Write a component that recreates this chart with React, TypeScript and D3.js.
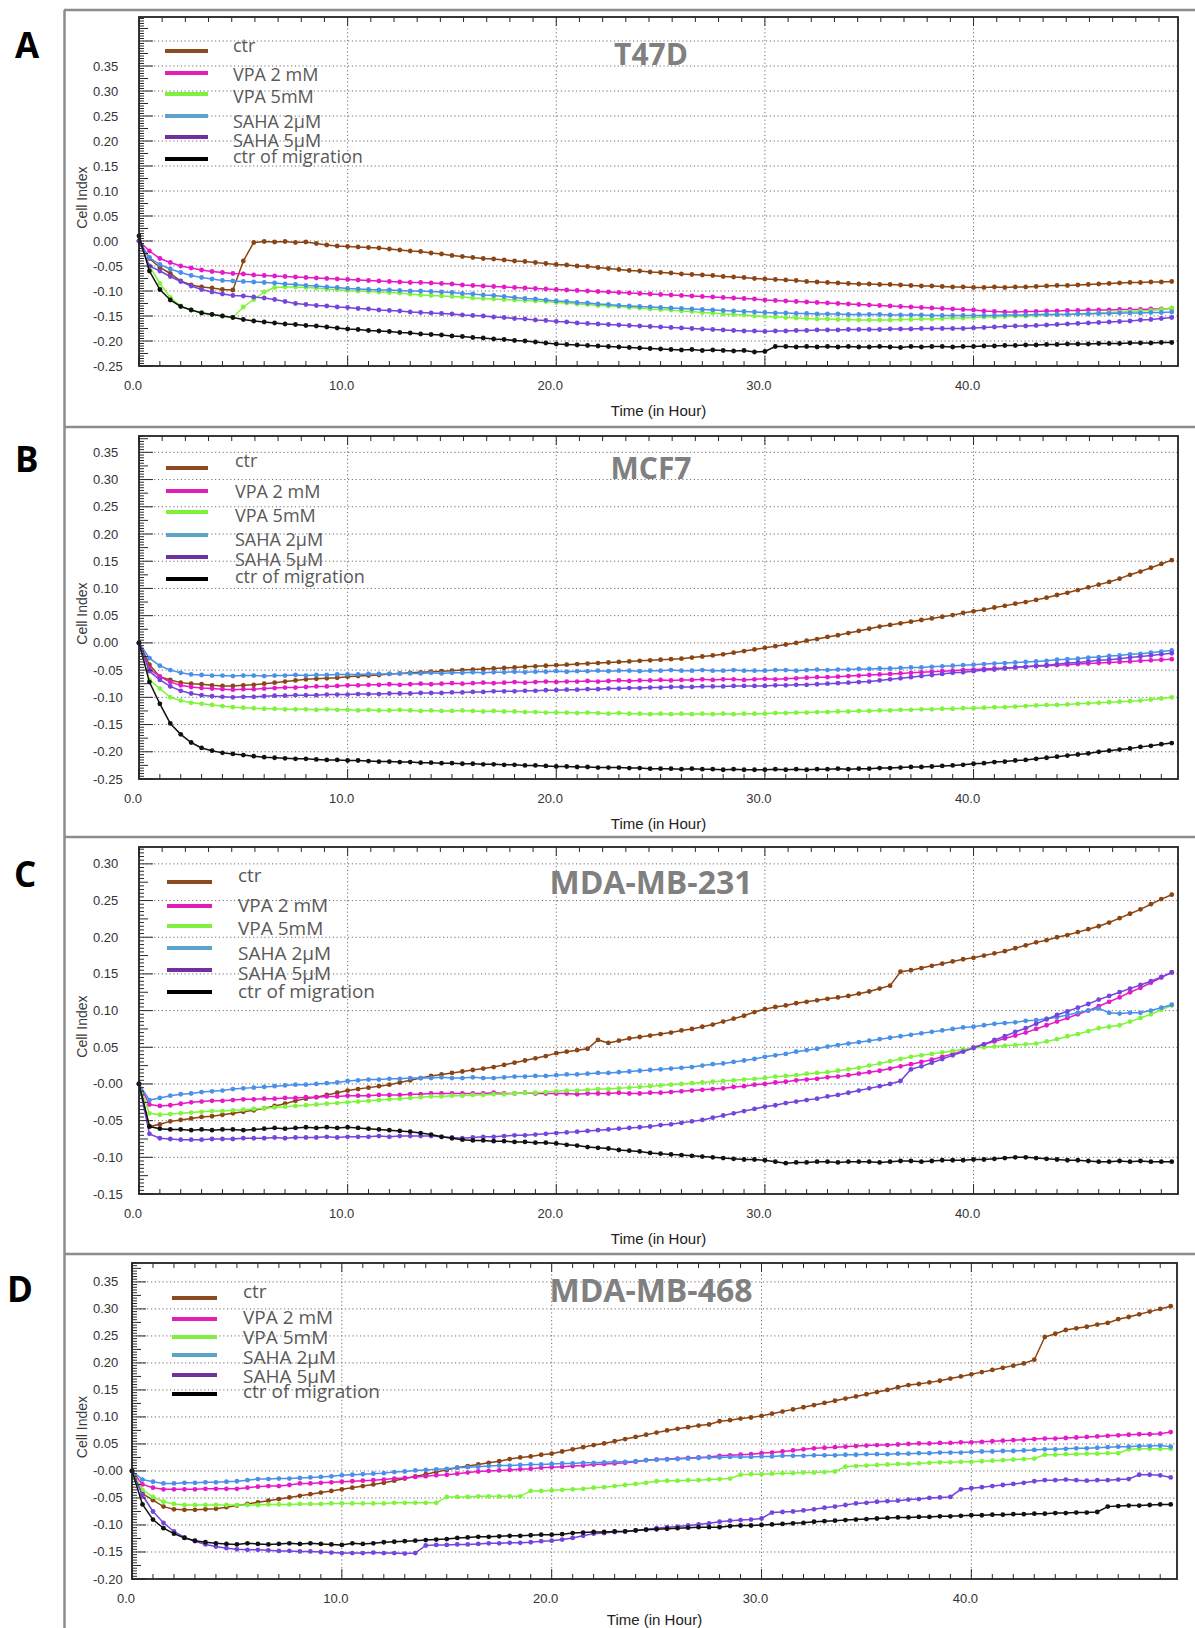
import React from "react";
import * as d3 from "d3";

// time axis: one reading every half hour
const HOURS = d3.range(0, 50, 0.5);
const X_MAX = 49.8;

const SERIES_LABELS = ["ctr", "VPA 2 mM", "VPA 5mM", "SAHA 2µM", "SAHA 5µM", "ctr of migration"];
const LINE_COLORS = ["#8b4513", "#e619c8", "#7ef53a", "#4a90e8", "#7444dc", "#111111"];
const LEGEND_COLORS = ["#8b4a20", "#e020b4", "#80f040", "#5ba3c9", "#7030a0", "#000000"];
const X_TICK_LABELS = ["0.0", "10.0", "20.0", "30.0", "40.0"];

const Y_LABELS_A = ["0.35", "0.30", "0.25", "0.20", "0.15", "0.10", "0.05", "0.00", "-0.05", "-0.10", "-0.15", "-0.20", "-0.25"];
const Y_LABELS_B = ["0.35", "0.30", "0.25", "0.20", "0.15", "0.10", "0.05", "0.00", "-0.05", "-0.10", "-0.15", "-0.20", "-0.25"];
const Y_LABELS_C = ["0.30", "0.25", "0.20", "0.15", "0.10", "0.05", "-0.00", "-0.05", "-0.10", "-0.15"];
const Y_LABELS_D = ["0.35", "0.30", "0.25", "0.20", "0.15", "0.10", "0.05", "-0.00", "-0.05", "-0.10", "-0.15", "-0.20"];

// cell index x 1000
const T47D_CTR = [
  0, -35, -53, -65, -80, -88, -92, -94, -97, -98,
  -40, -3, -1, -2, -1, -3, -2, -5, -8, -10,
  -11, -12, -13, -14, -16, -18, -20, -21, -24, -26,
  -29, -31, -33, -35, -36, -38, -40, -41, -43, -45,
  -47, -48, -50, -51, -53, -55, -57, -59, -60, -62,
  -63, -64, -66, -67, -68, -69, -71, -72, -73, -75,
  -76, -77, -78, -79, -81, -82, -83, -84, -85, -86,
  -86, -87, -87, -88, -89, -90, -90, -91, -92, -92,
  -93, -93, -92, -93, -92, -92, -91, -90, -89, -89,
  -88, -87, -86, -85, -84, -83, -83, -82, -82, -81];
const T47D_VPA2 = [
  0, -20, -35, -43, -50, -54, -58, -61, -63, -65,
  -66, -68, -69, -70, -71, -72, -73, -74, -75, -76,
  -77, -78, -79, -80, -81, -82, -83, -83, -84, -85,
  -86, -88, -89, -90, -91, -92, -93, -94, -95, -96,
  -97, -98, -99, -100, -101, -102, -103, -104, -105, -106,
  -107, -108, -109, -110, -111, -112, -113, -114, -115, -116,
  -118, -119, -120, -121, -122, -123, -124, -125, -126, -127,
  -128, -129, -130, -131, -132, -133, -134, -135, -136, -137,
  -138, -140, -141, -142, -142, -141, -141, -140, -140, -139,
  -139, -138, -138, -138, -137, -137, -137, -136, -136, -135];
const T47D_VPA5 = [
  0, -50, -85, -113, -130, -138, -143, -147, -150, -153,
  -132, -117, -102, -93, -92, -92, -93, -94, -96, -97,
  -99, -100, -101, -102, -103, -104, -106, -108, -109, -110,
  -111, -112, -114, -115, -116, -117, -118, -119, -120, -121,
  -123, -124, -126, -127, -129, -130, -131, -133, -134, -136,
  -137, -138, -140, -141, -143, -144, -146, -147, -148, -150,
  -151, -152, -153, -154, -155, -156, -156, -157, -157, -158,
  -158, -158, -158, -157, -157, -156, -156, -155, -154, -154,
  -153, -152, -152, -151, -150, -150, -149, -148, -147, -147,
  -146, -145, -144, -143, -142, -141, -140, -139, -137, -134];
const T47D_SAHA2 = [
  0, -33, -47, -56, -63, -69, -73, -76, -79, -80,
  -81, -82, -83, -84, -86, -87, -89, -90, -92, -93,
  -95, -96, -97, -98, -98, -99, -100, -100, -101, -102,
  -103, -105, -106, -108, -109, -111, -113, -115, -116, -118,
  -120, -121, -123, -124, -126, -127, -129, -130, -131, -132,
  -133, -134, -135, -136, -137, -138, -139, -140, -141, -142,
  -143, -144, -144, -145, -145, -146, -146, -146, -147, -147,
  -147, -147, -148, -148, -148, -148, -149, -149, -149, -149,
  -149, -149, -149, -148, -148, -148, -147, -147, -147, -147,
  -146, -146, -145, -145, -144, -144, -144, -143, -143, -142];
const T47D_SAHA5 = [
  0, -50, -60, -71, -81, -90, -97, -102, -106, -109,
  -110, -112, -114, -117, -121, -125, -127, -129, -130, -132,
  -133, -135, -136, -138, -139, -140, -142, -143, -144, -145,
  -146, -148, -149, -150, -152, -153, -155, -156, -158, -159,
  -161, -162, -164, -165, -166, -167, -168, -169, -170, -171,
  -172, -173, -174, -175, -176, -177, -178, -179, -180, -180,
  -181, -180, -180, -179, -179, -178, -178, -178, -177, -177,
  -177, -177, -176, -176, -176, -175, -175, -175, -175, -175,
  -174, -173, -172, -171, -170, -170, -169, -168, -167, -166,
  -165, -164, -163, -162, -161, -160, -158, -157, -155, -153];
const T47D_MIG = [
  10, -60, -97, -118, -131, -138, -144, -147, -150, -153,
  -157, -160, -162, -164, -166, -167, -169, -170, -172, -174,
  -176, -177, -179, -180, -181, -183, -184, -186, -187, -188,
  -190, -191, -193, -194, -196, -197, -199, -200, -202, -204,
  -206, -207, -208, -209, -210, -211, -212, -213, -214, -215,
  -216, -217, -218, -217, -219, -218, -219, -220, -219, -222,
  -221, -211, -211, -212, -211, -212, -211, -212, -211, -212,
  -212, -211, -212, -213, -211, -212, -211, -211, -212, -211,
  -211, -210, -210, -209, -209, -208, -208, -207, -207, -206,
  -206, -206, -205, -205, -205, -204, -204, -204, -203, -203];

const MCF7_CTR = [
  0, -40, -62, -68, -73, -75, -76, -78, -79, -79,
  -78, -77, -75, -73, -71, -69, -67, -66, -65, -64,
  -62, -61, -60, -59, -57, -56, -55, -54, -53, -52,
  -51, -50, -49, -48, -47, -46, -45, -44, -43, -42,
  -41, -40, -39, -38, -37, -36, -35, -34, -33, -32,
  -31, -30, -29, -27, -25, -23, -21, -18, -15, -12,
  -9, -6, -3, 0, 4, 7, 11, 14, 18, 22,
  26, 30, 33, 36, 39, 42, 45, 48, 51, 55,
  58, 61, 65, 68, 72, 75, 79, 83, 88, 92,
  97, 102, 107, 112, 118, 125, 131, 138, 145, 152];
const MCF7_VPA2 = [
  0, -48, -62, -72, -78, -81, -83, -84, -85, -86,
  -85, -85, -84, -83, -82, -82, -81, -80, -80, -79,
  -78, -78, -77, -77, -76, -77, -76, -75, -76, -75,
  -74, -75, -74, -73, -74, -73, -72, -73, -72, -71,
  -72, -71, -71, -70, -71, -70, -69, -70, -69, -69,
  -68, -69, -68, -68, -67, -68, -67, -67, -68, -67,
  -66, -67, -66, -65, -64, -63, -63, -62, -61, -60,
  -59, -58, -57, -56, -55, -54, -53, -52, -51, -50,
  -49, -48, -47, -46, -45, -44, -43, -42, -41, -40,
  -39, -38, -37, -36, -35, -34, -33, -32, -31, -30];
const MCF7_VPA5 = [
  0, -68, -84, -100, -106, -110, -112, -114, -116, -118,
  -119, -120, -121, -121, -122, -122, -122, -123, -122, -123,
  -123, -124, -123, -124, -124, -123, -124, -125, -124, -125,
  -125, -124, -125, -126, -125, -126, -126, -127, -127, -128,
  -128, -128, -129, -128, -129, -130, -129, -130, -130, -131,
  -130, -131, -130, -131, -130, -131, -130, -131, -130, -130,
  -130, -129, -129, -128, -128, -127, -127, -126, -126, -125,
  -125, -124, -124, -123, -123, -122, -122, -121, -121, -120,
  -120, -119, -118, -118, -117, -116, -115, -114, -114, -113,
  -112, -111, -110, -109, -108, -107, -106, -104, -102, -100];
const MCF7_SAHA2 = [
  0, -28, -42, -50, -55, -58, -59, -60, -60, -61,
  -60, -60, -61, -60, -60, -59, -60, -59, -59, -58,
  -58, -58, -57, -57, -57, -56, -56, -56, -55, -56,
  -55, -55, -54, -55, -54, -54, -53, -54, -53, -53,
  -52, -53, -52, -52, -51, -52, -51, -51, -52, -51,
  -51, -50, -51, -51, -50, -51, -51, -50, -51, -51,
  -51, -50, -50, -51, -50, -49, -50, -49, -49, -48,
  -48, -47, -47, -46, -45, -45, -44, -43, -42, -41,
  -40, -39, -38, -37, -36, -35, -34, -33, -31, -30,
  -29, -27, -26, -24, -23, -21, -20, -18, -16, -14];
const MCF7_SAHA5 = [
  0, -52, -68, -80, -88, -93, -96, -98, -99, -100,
  -99, -99, -98, -97, -97, -96, -96, -96, -95, -95,
  -95, -94, -94, -94, -93, -93, -93, -92, -92, -92,
  -91, -91, -90, -90, -89, -89, -89, -88, -88, -87,
  -87, -86, -86, -85, -85, -84, -84, -83, -83, -82,
  -82, -81, -81, -81, -80, -80, -80, -79, -79, -79,
  -79, -78, -78, -77, -77, -76, -75, -74, -73, -72,
  -71, -69, -67, -65, -63, -61, -59, -57, -55, -54,
  -52, -50, -49, -47, -45, -44, -42, -41, -39, -37,
  -36, -34, -32, -31, -29, -27, -25, -23, -21, -19];
const MCF7_MIG = [
  0, -72, -112, -148, -168, -183, -193, -198, -202, -204,
  -206, -208, -210, -211, -212, -213, -213, -214, -215, -215,
  -216, -216, -217, -218, -218, -219, -219, -220, -220, -221,
  -221, -222, -222, -223, -223, -224, -224, -225, -225, -226,
  -227, -227, -228, -228, -229, -229, -229, -230, -230, -231,
  -231, -231, -232, -231, -232, -232, -233, -232, -233, -233,
  -233, -232, -233, -232, -233, -232, -232, -231, -232, -231,
  -231, -230, -230, -229, -228, -228, -227, -226, -225, -224,
  -222, -221, -219, -218, -216, -215, -213, -211, -209, -207,
  -205, -203, -200, -198, -196, -194, -191, -189, -186, -184];

const MB231_CTR = [
  0, -58, -55, -51, -49, -47, -45, -44, -42, -40,
  -38, -36, -33, -30, -27, -23, -20, -18, -15, -12,
  -9, -7, -5, -3, -1, 2, 5, 8, 11, 13,
  15, 17, 19, 21, 23, 26, 29, 32, 35, 38,
  42, 44, 46, 48, 60, 56, 59, 62, 64, 66,
  68, 70, 73, 75, 78, 81, 85, 89, 93, 98,
  102, 105, 107, 110, 112, 114, 116, 118, 120, 123,
  126, 130, 134, 153, 155, 158, 161, 164, 167, 170,
  172, 175, 178, 181, 185, 189, 193, 196, 200, 203,
  207, 211, 215, 220, 226, 232, 238, 245, 252, 258];
const MB231_VPA2 = [
  0, -28, -30, -29, -27, -25, -24, -23, -23, -22,
  -21, -21, -20, -20, -19, -19, -18, -18, -17, -17,
  -16, -16, -16, -15, -15, -15, -14, -14, -13, -13,
  -13, -13, -13, -13, -12, -13, -13, -12, -13, -13,
  -13, -13, -14, -13, -13, -13, -12, -13, -13, -12,
  -12, -11, -10, -9, -8, -7, -6, -4, -3, -1,
  0, 2, 3, 5, 6, 7, 9, 10, 12, 14,
  16, 18, 21, 24, 27, 30, 33, 37, 41, 45,
  50, 54, 58, 62, 66, 70, 75, 80, 85, 90,
  95, 100, 106, 112, 118, 125, 131, 138, 145, 152];
const MB231_VPA5 = [
  0, -40, -42, -41, -40, -39, -38, -37, -37, -36,
  -35, -34, -33, -32, -31, -30, -29, -28, -27, -26,
  -25, -24, -23, -22, -21, -20, -19, -18, -17, -17,
  -16, -16, -15, -15, -14, -14, -13, -12, -12, -11,
  -10, -9, -9, -8, -7, -7, -6, -5, -4, -3,
  -2, -1, 0, 1, 2, 3, 4, 5, 6, 7,
  8, 10, 11, 12, 14, 15, 16, 18, 20, 22,
  25, 28, 31, 34, 37, 39, 41, 43, 45, 47,
  49, 50, 51, 52, 53, 54, 55, 58, 61, 65,
  68, 72, 76, 78, 80, 85, 90, 95, 101, 107];
const MB231_SAHA2 = [
  0, -22, -19, -16, -14, -13, -11, -10, -9, -7,
  -6, -5, -4, -3, -2, -1, -1, 0, 1, 2,
  4, 5, 6, 6, 7, 7, 8, 8, 8, 9,
  8, 8, 9, 8, 8, 9, 10, 10, 11, 11,
  12, 13, 13, 14, 15, 15, 16, 17, 18, 19,
  20, 21, 22, 23, 25, 27, 28, 30, 32, 34,
  37, 39, 41, 44, 46, 48, 51, 53, 55, 57,
  59, 61, 63, 65, 67, 69, 71, 73, 75, 77,
  78, 80, 82, 83, 84, 86, 87, 89, 91, 94,
  97, 100, 103, 97, 96, 97, 97, 100, 104, 108];
const MB231_SAHA5 = [
  0, -68, -74, -75, -76, -76, -76, -75, -75, -75,
  -74, -74, -74, -73, -74, -73, -73, -73, -72, -73,
  -72, -72, -72, -71, -72, -71, -71, -71, -71, -72,
  -73, -74, -73, -72, -72, -71, -70, -70, -69, -68,
  -67, -66, -65, -64, -63, -62, -61, -60, -59, -58,
  -56, -55, -53, -51, -49, -46, -43, -40, -37, -34,
  -31, -29, -26, -24, -22, -20, -17, -15, -12, -9,
  -6, -3, 0, 4, 20, 24, 29, 34, 39, 44,
  49, 54, 60, 65, 71, 76, 82, 88, 94, 99,
  104, 109, 115, 120, 125, 130, 135, 140, 146, 152];
const MB231_MIG = [
  0, -58, -61, -62, -62, -63, -62, -63, -62, -62,
  -63, -62, -61, -60, -61, -60, -59, -60, -59, -60,
  -59, -60, -61, -62, -63, -64, -65, -67, -69, -72,
  -74, -76, -77, -77, -78, -78, -79, -79, -80, -80,
  -81, -83, -84, -86, -87, -88, -90, -91, -92, -94,
  -95, -96, -97, -98, -99, -100, -101, -102, -103, -103,
  -104, -106, -108, -107, -107, -106, -106, -107, -106, -106,
  -106, -107, -106, -105, -105, -106, -105, -104, -104, -104,
  -103, -103, -102, -101, -100, -100, -101, -102, -103, -104,
  -104, -105, -106, -106, -105, -106, -105, -106, -106, -106];

const MB468_CTR = [
  0, -42, -54, -66, -71, -72, -72, -71, -70, -67,
  -64, -61, -58, -55, -52, -49, -46, -43, -40, -37,
  -34, -31, -28, -25, -22, -18, -14, -10, -6, -2,
  2, 6, 9, 12, 15, 18, 22, 25, 27, 30,
  32, 36, 40, 44, 48, 51, 55, 59, 63, 67,
  71, 75, 78, 81, 84, 86, 92, 94, 97, 99,
  102, 106, 110, 114, 118, 122, 126, 130, 134, 138,
  142, 146, 150, 155, 159, 161, 164, 167, 171, 175,
  179, 183, 187, 191, 195, 199, 206, 248, 254, 261,
  264, 267, 271, 274, 281, 285, 290, 295, 300, 305];
const MB468_VPA2 = [
  0, -25, -31, -34, -34, -34, -34, -33, -33, -33,
  -33, -31, -29, -28, -28, -26, -23, -23, -22, -21,
  -20, -19, -18, -17, -16, -14, -13, -11, -10, -8,
  -7, -5, -3, -1, 0, 1, 2, 3, 4, 6,
  7, 8, 9, 10, 12, 13, 14, 15, 17, 20,
  21, 22, 23, 24, 25, 26, 28, 29, 30, 31,
  33, 34, 36, 38, 40, 42, 43, 44, 45, 46,
  47, 48, 48, 49, 50, 51, 51, 52, 52, 53,
  53, 54, 55, 56, 57, 58, 59, 60, 60, 61,
  62, 63, 64, 65, 66, 67, 68, 68, 69, 72];
const MB468_VPA5 = [
  0, -35, -48, -57, -61, -63, -63, -63, -63, -63,
  -63, -63, -63, -62, -62, -62, -61, -61, -61, -60,
  -60, -60, -60, -60, -60, -59, -59, -59, -59, -59,
  -48, -48, -48, -47, -47, -47, -47, -47, -37, -37,
  -36, -35, -34, -33, -31, -30, -28, -26, -24, -22,
  -19, -18, -18, -17, -17, -16, -15, -14, -7, -6,
  -6, -5, -4, -4, -3, -3, -2, -1, 8, 9,
  10, 11, 12, 13, 13, 14, 15, 16, 16, 17,
  17, 18, 19, 20, 21, 22, 23, 30, 30, 31,
  31, 32, 32, 33, 33, 40, 41, 41, 41, 41];
const MB468_SAHA2 = [
  0, -16, -20, -23, -23, -22, -22, -21, -21, -20,
  -19, -17, -15, -15, -14, -14, -13, -12, -11, -10,
  -8, -7, -6, -5, -4, -2, -1, 1, 2, 3,
  4, 6, 7, 8, 9, 10, 10, 11, 12, 12,
  13, 14, 14, 15, 15, 16, 17, 17, 18, 20,
  21, 21, 22, 23, 24, 25, 25, 26, 26, 26,
  27, 27, 28, 28, 28, 29, 29, 29, 30, 30,
  31, 31, 31, 32, 32, 33, 33, 34, 34, 34,
  35, 36, 36, 37, 37, 38, 39, 40, 40, 41,
  42, 42, 43, 44, 45, 45, 46, 46, 47, 45];
const MB468_SAHA5 = [
  0, -45, -75, -96, -112, -123, -130, -136, -140, -143,
  -145, -146, -146, -147, -148, -148, -149, -149, -150, -151,
  -152, -152, -152, -151, -152, -152, -153, -152, -138, -137,
  -137, -136, -136, -135, -134, -134, -133, -133, -132, -130,
  -129, -127, -124, -120, -116, -115, -113, -112, -110, -108,
  -106, -104, -103, -101, -99, -97, -94, -92, -91, -90,
  -88, -77, -76, -75, -73, -71, -68, -66, -63, -60,
  -59, -57, -56, -55, -53, -52, -50, -49, -48, -34,
  -32, -30, -28, -26, -24, -22, -19, -17, -17, -16,
  -17, -18, -17, -17, -16, -15, -7, -7, -8, -12];
const MB468_MIG = [
  0, -62, -90, -106, -116, -124, -129, -132, -134, -135,
  -136, -134, -135, -136, -135, -134, -135, -134, -135, -136,
  -137, -134, -135, -134, -132, -131, -130, -129, -128, -127,
  -126, -124, -123, -122, -122, -121, -120, -120, -119, -118,
  -118, -117, -115, -114, -113, -113, -112, -112, -110, -109,
  -108, -107, -106, -105, -104, -104, -104, -102, -101, -101,
  -100, -99, -98, -97, -96, -94, -93, -92, -91, -90,
  -89, -88, -87, -86, -86, -85, -85, -84, -84, -83,
  -82, -82, -81, -81, -80, -80, -79, -79, -78, -78,
  -77, -77, -76, -66, -65, -64, -64, -63, -62, -62];

const PANELS = [
  {
    letter: "A", letterX: 15, letterY: 58, title: "T47D", titleSize: 30, titleY: 65,
    series: [T47D_CTR, T47D_VPA2, T47D_VPA5, T47D_SAHA2, T47D_SAHA5, T47D_MIG], yLabels: Y_LABELS_A,
    left: 139, right: 1178, top: 17, bottom: 366, yMin: -0.25, yMax: 0.448, topStep: 10 / 9,
    legLine: [165, 208], legRows: [51, 73, 94, 116, 137, 159], legTextX: 233,
    legBase: [52, 81, 103, 128, 147, 163], legSize: 18,
  },
  {
    letter: "B", letterX: 15, letterY: 472, title: "MCF7", titleSize: 30, titleY: 479,
    series: [MCF7_CTR, MCF7_VPA2, MCF7_VPA5, MCF7_SAHA2, MCF7_SAHA5, MCF7_MIG], yLabels: Y_LABELS_B,
    left: 139, right: 1178, top: 436, bottom: 779, yMin: -0.25, yMax: 0.38, topStep: 10 / 9,
    legLine: [166, 208], legRows: [468, 491, 512, 535, 557, 579], legTextX: 235,
    legBase: [467, 498, 522, 546, 566, 583], legSize: 18,
  },
  {
    letter: "C", letterX: 14, letterY: 887, title: "MDA-MB-231", titleSize: 32, titleY: 894,
    series: [MB231_CTR, MB231_VPA2, MB231_VPA5, MB231_SAHA2, MB231_SAHA5, MB231_MIG], yLabels: Y_LABELS_C,
    left: 139, right: 1178, top: 847, bottom: 1194, yMin: -0.15, yMax: 0.323, topStep: 10 / 9,
    legLine: [167, 212], legRows: [882, 906, 926, 948, 970, 992], legTextX: 238,
    legBase: [882, 912, 935, 960, 980, 998], legSize: 19,
  },
  {
    letter: "D", letterX: 7, letterY: 1302, title: "MDA-MB-468", titleSize: 32, titleY: 1302,
    series: [MB468_CTR, MB468_VPA2, MB468_VPA5, MB468_SAHA2, MB468_SAHA5, MB468_MIG], yLabels: Y_LABELS_D,
    left: 132, right: 1177, top: 1263, bottom: 1579, yMin: -0.2, yMax: 0.385, topStep: 1,
    legLine: [172, 217], legRows: [1298, 1319, 1337, 1355, 1375, 1394], legTextX: 243,
    legBase: [1298, 1324, 1344, 1364, 1383, 1398], legSize: 19,
  },
];

const SEPARATORS = [10, 427, 837, 1254];
const TICK_FONT = "'Liberation Sans', Arial, sans-serif";
const TEXT_FONT = "'Open Sans', sans-serif";
const mod = (a, n) => ((a % n) + n) % n;

function Panel({ p }) {
  const x = d3.scaleLinear().domain([0, X_MAX]).range([p.left, p.right]);
  const y = d3.scaleLinear().domain([p.yMin, p.yMax]).range([p.bottom, p.top]);
  const line = d3.line<number>().x((_, i) => x(HOURS[i])).y((v) => y(v / 1000));

  const kMin = Math.round(p.yMin / 0.05);
  const kMax = Math.floor(p.yMax / 0.05 + 1e-9);
  const gridY = d3.range(kMin + 1, kMax + 1).map((k) => k * 0.05);
  const minor = d3.range(Math.round(p.yMin / 0.005), Math.floor(p.yMax / 0.005 + 1e-9) + 1);
  const bottomTicks = d3.range(0, Math.floor(X_MAX) + 1);
  const topCount = Math.floor(X_MAX / p.topStep + 1e-9);
  const topTicks = d3.range(0, topCount + 1);
  const perMajor = Math.round(10 / p.topStep);
  const gridX = [10, 20, 30, 40];
  const mid = (p.top + p.bottom) / 2;

  return (
    <g>
      {/* grid */}
      <g stroke="#6e6e6e" strokeWidth={1} strokeDasharray="1.2 2.6" fill="none">
        {gridY.map((v) => (
          <line key={"gy" + v} x1={p.left} x2={p.right} y1={y(v)} y2={y(v)} />
        ))}
        {gridX.map((h) => (
          <line key={"gx" + h} x1={x(h)} x2={x(h)} y1={p.top} y2={p.bottom} />
        ))}
      </g>

      {/* series */}
      {p.series.map((s, si) => (
        <g key={"s" + si}>
          <path d={line(s) || ""} fill="none" stroke={LINE_COLORS[si]} strokeWidth={1.5} />
          {s.map((v, i) => (
            <circle key={i} cx={x(HOURS[i])} cy={y(v / 1000)} r={2.4} fill={LINE_COLORS[si]} />
          ))}
        </g>
      ))}

      {/* axes */}
      <g stroke="#2a2a2a" strokeWidth={1}>
        {minor.map((m) => {
          const len = mod(m, 10) === 0 ? 14 : mod(m, 5) === 0 ? 9 : 5;
          return <line key={"ym" + m} x1={p.left} x2={p.left + len} y1={y(m * 0.005)} y2={y(m * 0.005)} />;
        })}
        {bottomTicks.map((h) => (
          <line key={"bt" + h} x1={x(h)} x2={x(h)} y1={p.bottom} y2={p.bottom - (h % 10 === 0 ? 10 : 5)} />
        ))}
        {topTicks.map((k) => (
          <line key={"tt" + k} x1={x(k * p.topStep)} x2={x(k * p.topStep)} y1={p.top}
            y2={p.top + (k % perMajor === 0 ? 9 : 5)} />
        ))}
      </g>
      <rect x={p.left} y={p.top} width={p.right - p.left} height={p.bottom - p.top}
        fill="none" stroke="#222" strokeWidth={1.8} />

      {/* tick labels */}
      <g fontFamily={TICK_FONT} fontSize={13} fill="#333">
        {p.yLabels.map((t) => (
          <text key={"yl" + t} x={93} y={y(+t) + 4.5}>{t}</text>
        ))}
        {X_TICK_LABELS.map((t) => (
          <text key={"xl" + t} x={x(+t) - 6} y={p.bottom + 24} textAnchor="middle">{t}</text>
        ))}
      </g>
      <text x={82} y={mid + 6} transform={`rotate(-90 82 ${mid + 6})`} textAnchor="middle"
        dominantBaseline="central" fontFamily={TICK_FONT} fontSize={14} fill="#3a3a3a">Cell Index</text>
      <text x={(p.left + p.right) / 2} y={Math.min(p.bottom + 50, 1625)} textAnchor="middle"
        fontFamily={TICK_FONT} fontSize={15} fill="#222">Time (in Hour)</text>

      {/* legend */}
      {SERIES_LABELS.map((lab, i) => (
        <g key={"lg" + i}>
          <line x1={p.legLine[0]} x2={p.legLine[1]} y1={p.legRows[i]} y2={p.legRows[i]}
            stroke={LEGEND_COLORS[i]} strokeWidth={4} />
          <text x={p.legTextX} y={p.legBase[i]} fontFamily={TEXT_FONT} fontSize={p.legSize} fill="#595959">{lab}</text>
        </g>
      ))}

      {/* title and panel letter */}
      <text x={651} y={p.titleY} textAnchor="middle" fontFamily={TEXT_FONT} fontWeight={700}
        fontSize={p.titleSize} fill="#808080">{p.title}</text>
      <text x={p.letterX} y={p.letterY} fontFamily={TEXT_FONT} fontWeight={700} fontSize={35} fill="#000">{p.letter}</text>
    </g>
  );
}

export default function App() {
  return (
    <svg width={1195} height={1628} viewBox="0 0 1195 1628"
      style={{ position: "absolute", left: 0, top: 0, display: "block", background: "#fff" }}>
      <rect x={0} y={0} width={1195} height={1628} fill="#fff" />
      <g stroke="#8c8c8c" strokeWidth={2.5}>
        {SEPARATORS.map((sy) => (
          <line key={sy} x1={64} x2={1195} y1={sy} y2={sy} />
        ))}
        <line x1={64.5} x2={64.5} y1={10} y2={1628} />
      </g>
      {PANELS.map((p) => (
        <Panel key={p.letter} p={p} />
      ))}
    </svg>
  );
}
